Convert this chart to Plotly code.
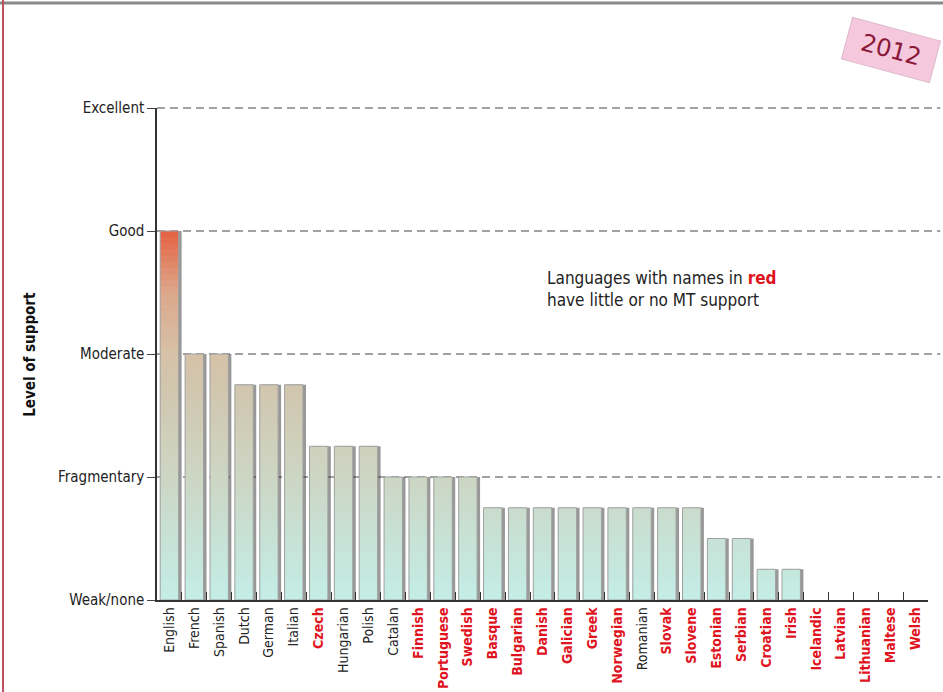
import numpy as np
import plotly.graph_objects as go

languages = ["English", "French", "Spanish", "Dutch", "German", "Italian", "Czech", "Hungarian",
             "Polish", "Catalan", "Finnish", "Portuguese", "Swedish", "Basque", "Bulgarian", "Danish",
             "Galician", "Greek", "Norwegian", "Romanian", "Slovak", "Slovene", "Estonian", "Serbian",
             "Croatian", "Irish", "Icelandic", "Latvian", "Lithuanian", "Maltese", "Welsh"]
support = [3, 2, 2, 1.75, 1.75, 1.75, 1.25, 1.25, 1.25, 1, 1, 1, 1, 0.75, 0.75, 0.75, 0.75, 0.75,
           0.75, 0.75, 0.75, 0.75, 0.5, 0.5, 0.25, 0.25, 0, 0, 0, 0, 0]
little_mt = ["Czech", "Finnish", "Portuguese", "Swedish", "Basque", "Bulgarian", "Danish", "Galician",
             "Greek", "Norwegian", "Slovak", "Slovene", "Estonian", "Serbian", "Croatian", "Irish",
             "Icelandic", "Latvian", "Lithuanian", "Maltese", "Welsh"]
level_vals = [0, 1, 2, 3, 4]
level_labels = ["Weak/none", "Fragmentary", "Moderate", "Good", "Excellent"]

# gradient stops (absolute level -> colour)
grad_levels = [0.0, 0.5, 1.0, 1.75, 2.0, 2.5, 3.0]
grad_colors = [(196, 238, 230), (200, 226, 214), (205, 214, 196), (210, 198, 174),
               (214, 194, 168), (221, 168, 140), (229, 98, 66)]

FONT = "Liberation Sans Narrow, DejaVu Sans Condensed, Liberation Sans, sans-serif"
Y_MAX = 4
BAR_W = 0.74


def color_at(v):
    r = np.interp(v, grad_levels, [c[0] for c in grad_colors])
    g = np.interp(v, grad_levels, [c[1] for c in grad_colors])
    b = np.interp(v, grad_levels, [c[2] for c in grad_colors])
    return f"rgb({int(r)},{int(g)},{int(b)})"


vals = np.array(support, dtype=float)
nonzero = [v if v > 0 else None for v in support]
fig = go.Figure()

# shadow
fig.add_trace(go.Bar(x=languages, y=nonzero, width=BAR_W, offset=-BAR_W / 2 + 0.12,
                     marker=dict(color="rgba(50,50,50,0.5)", line=dict(width=0)),
                     hoverinfo="skip", showlegend=False))

dy = 0.05
steps = np.arange(0, vals.max(), dy)
for b in steps:
    h = np.clip(vals - b, 0, dy * 1.6)
    fig.add_trace(go.Bar(x=languages, y=h, base=b, width=BAR_W,
                         marker=dict(color=color_at(b + dy / 2), line=dict(width=0)),
                         hoverinfo="skip", showlegend=False))

# outline
fig.add_trace(go.Bar(x=languages, y=nonzero, width=BAR_W,
                     marker=dict(color="rgba(0,0,0,0)", line=dict(color="#a0a0a0", width=1)),
                     hoverinfo="skip", showlegend=False))

ticktext = []
for lang in languages:
    if lang in little_mt:
        ticktext.append(f"<b><span style='color:#e0141e'>{lang}</span></b>")
    else:
        ticktext.append(lang)

shapes = [
    dict(type="line", xref="paper", yref="paper", x0=-0.21, x1=1.03, y0=1.2134, y1=1.2134,
         line=dict(color="#8a8a8a", width=3)),
    dict(type="line", xref="paper", yref="paper", x0=-0.1997, x1=-0.1997, y0=1.22, y1=-0.19,
         line=dict(color="#c05060", width=2)),
]
for v in level_vals[1:]:
    shapes.append(dict(type="line", xref="paper", yref="paper", x0=0, x1=1.016,
                       y0=v / Y_MAX, y1=v / Y_MAX, layer="below",
                       line=dict(color="#444", width=1, dash="8px,5px")))

fig.update_layout(
    width=943, height=692,
    margin=dict(l=157, r=15, t=108, b=92),
    paper_bgcolor="white", plot_bgcolor="white",
    barmode="overlay",
    font=dict(family=FONT, size=14, color="#222"),
    xaxis=dict(range=[-0.5, len(languages) - 0.5], tickmode="array",
               tickvals=languages, ticktext=ticktext, tickangle=-90, automargin=False,
               ticks="inside", tickson="boundaries", ticklen=8, tickcolor="#333",
               showline=True, linecolor="#333", linewidth=1.5, showgrid=False,
               tickfont=dict(family=FONT, size=14, color="#222")),
    yaxis=dict(range=[0, Y_MAX], tickmode="array", tickvals=level_vals, ticktext=level_labels,
               ticks="outside", ticklen=8, tickcolor="#444", automargin=False,
               showline=True, linecolor="#333", linewidth=1.5,
               showgrid=False, zeroline=False,
               tickfont=dict(family=FONT, size=15, color="#222")),
    annotations=[
        dict(xref="paper", yref="paper", x=-0.165, y=0.5, xanchor="center", yanchor="middle",
             text="<b>Level of support</b>",
             textangle=-90, showarrow=False, font=dict(family=FONT, size=15, color="#111")),
        dict(xref="paper", yref="paper", x=0.503, y=0.632, xanchor="left", yanchor="middle",
             align="left", showarrow=False,
             text="Languages with names in <b><span style='color:#e0141e'>red</span></b><br>have little or no MT support",
             font=dict(family=FONT, size=17, color="#222")),
        dict(xref="paper", yref="paper", x=0.952, y=1.118, xanchor="center", yanchor="middle",
             text=" 2012 ", textangle=15,
             showarrow=False, bgcolor="#f6c8de", bordercolor="#dcb8ca", borderwidth=1, borderpad=7,
             font=dict(family="DejaVu Sans, sans-serif", size=24, color="#8a1838")),
    ],
    shapes=shapes,
)

fig.write_html("out.html")
